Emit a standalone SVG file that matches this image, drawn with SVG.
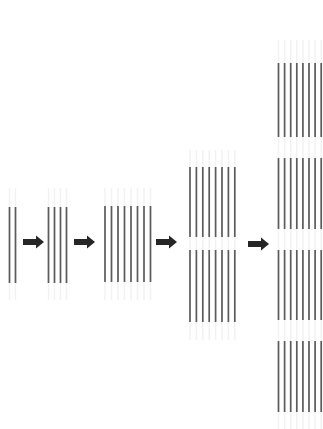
<svg xmlns="http://www.w3.org/2000/svg" width="323" height="429" viewBox="0 0 323 429">
<defs>
<style>
.ln{stroke:#5c5c5c;stroke-width:1.7}
.fz{stroke:#f2f2f2;stroke-width:1.5}
.ar{fill:#262626}
</style>
<path id="arw" class="ar" d="M0,-3 H13 V-6.5 L21,0 L13,6.5 V3 H0 Z"/>
</defs>
<rect width="323" height="429" fill="#ffffff"/>
<g id="stage1">
<path class="fz" d="M9.5,188V300M15.5,188V300"/>
<path class="ln" d="M9.5,207V283M15.5,207V283"/>
</g>
<g id="stage2">
<path class="fz" d="M48.5,188V300M54.5,188V300M60.5,188V300M66.5,188V300"/>
<path class="ln" d="M48.5,207V283M54.5,207V283M60.5,207V283M66.5,207V283"/>
</g>
<g id="stage3">
<path class="fz" d="M105,188V300M111.5,188V300M118,188V300M124.5,188V300M131,188V300M137.5,188V300M144,188V300M150.5,188V300"/>
<path class="ln" d="M105,206V282M111.5,206V282M118,206V282M124.5,206V282M131,206V282M137.5,206V282M144,206V282M150.5,206V282"/>
</g>
<g id="stage4">
<path class="fz" d="M190,150V340M196.4,150V340M202.8,150V340M209.2,150V340M215.6,150V340M222,150V340M228.4,150V340M234.8,150V340"/>
<path class="ln" d="M190,167V237M196.4,167V237M202.8,167V237M209.2,167V237M215.6,167V237M222,167V237M228.4,167V237M234.8,167V237"/>
<path class="ln" d="M190,250V322M196.4,250V322M202.8,250V322M209.2,250V322M215.6,250V322M222,250V322M228.4,250V322M234.8,250V322"/>
</g>
<g id="stage5">
<path class="fz" d="M278.5,40V429M284.6,40V429M290.7,40V429M296.8,40V429M302.9,40V429M309,40V429M315.1,40V429M321.2,40V429"/>
<path class="ln" d="M278.5,63V137M284.6,63V137M290.7,63V137M296.8,63V137M302.9,63V137M309,63V137M315.1,63V137M321.2,63V137"/>
<path class="ln" d="M278.5,158V229M284.6,158V229M290.7,158V229M296.8,158V229M302.9,158V229M309,158V229M315.1,158V229M321.2,158V229"/>
<path class="ln" d="M278.5,250V320M284.6,250V320M290.7,250V320M296.8,250V320M302.9,250V320M309,250V320M315.1,250V320M321.2,250V320"/>
<path class="ln" d="M278.5,341V412M284.6,341V412M290.7,341V412M296.8,341V412M302.9,341V412M309,341V412M315.1,341V412M321.2,341V412"/>
</g>
<g id="connectors">
<use href="#arw" x="23" y="242"/>
<use href="#arw" x="74" y="242"/>
<use href="#arw" x="156" y="242"/>
<use href="#arw" x="248" y="244"/>
</g>
</svg>
